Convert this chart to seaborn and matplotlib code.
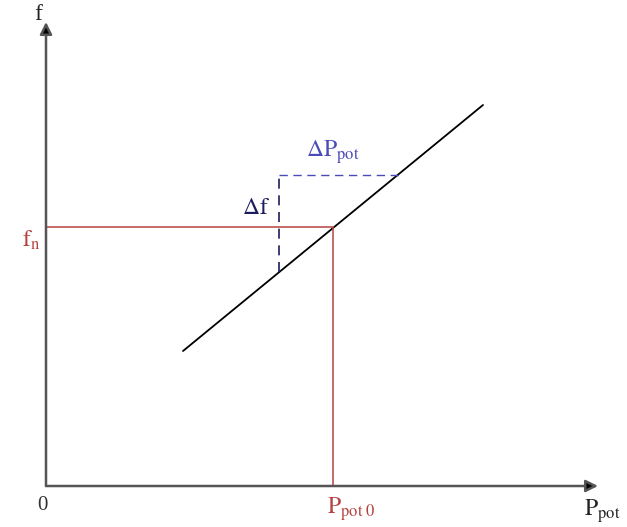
import matplotlib
matplotlib.use("Agg")
import pandas as pd
import matplotlib.pyplot as plt
import seaborn as sns

# ==========================================
# 1. DATA (axis units, origin at the axes corner)
# ==========================================
# droop characteristic f(P_pot)
line_p = [137, 437]
line_f = [135, 381]

# operating point
p0 = 287
fn = 259

# delta triangle
delta_p = [233, 354]
delta_f = [214, 311]

# axis extents
x_end = 552
y_end = 464

RED = "#b5423f"
NAVY = "#1c1c5e"
BLUE = "#4a4ab8"

# ==========================================
# 2. STYLE
# ==========================================
sns.set_theme(style="white")
plt.rcParams['font.family'] = ['Liberation Serif', 'DejaVu Serif']
plt.rcParams['mathtext.fontset'] = 'stix'

fig = plt.figure(figsize=(6.27, 5.27), dpi=100)
ax = fig.add_axes([0, 0, 1, 1])
ax.set_xlim(-46, 581)
ax.set_ylim(-41, 486)
ax.axis('off')

# ==========================================
# 3. DRAW
# ==========================================
# axes with arrows (gray shaft, black head)
arrow_kw = dict(arrowstyle='-|>', ec='#555555', fc='black', lw=1.8,
                mutation_scale=18, shrinkA=0, shrinkB=0)
ax.annotate('', xy=(x_end, 0), xytext=(0, 0), arrowprops=arrow_kw)
ax.annotate('', xy=(0, y_end), xytext=(0, 0), arrowprops=arrow_kw)

# characteristic line
df_line = pd.DataFrame({'p': line_p, 'f': line_f})
sns.lineplot(data=df_line, x='p', y='f', color='black', linewidth=1.3, ax=ax)

# operating point guides
ax.plot([0, p0], [fn, fn], color=RED, linewidth=1.1)
ax.plot([p0, p0], [0, fn], color=RED, linewidth=1.1)

# delta triangle
ax.plot([delta_p[0], delta_p[0]], delta_f, color=NAVY, linewidth=1.2,
        linestyle=(0, (6, 4)))
ax.plot(delta_p, [delta_f[1], delta_f[1]], color=BLUE, linewidth=1.0,
        linestyle=(0, (6, 4)))

# labels
ax.text(-8, 471, 'f', fontsize=17, ha='center', va='center', color='#222222')
ax.text(-15, 246, r'$\mathrm{f}_{\mathrm{n}}$', fontsize=17, ha='center',
        va='center', color=RED)
ax.text(-4, -19, '0', fontsize=15, ha='center', va='center', color='#333333')
ax.text(281, -23, r'$\mathrm{P}_{\mathrm{pot\ 0}}$', fontsize=17, ha='left',
        va='center', color=RED)
ax.text(538, -25, r'$\mathrm{P}_{\mathrm{pot}}$', fontsize=17, ha='left',
        va='center', color='#222222')
ax.text(196, 278, r'$\Delta\mathrm{f}$', fontsize=17, ha='left',
        va='center', color=NAVY)
ax.text(260, 334, r'$\Delta\mathrm{P}_{\mathrm{pot}}$', fontsize=17, ha='left',
        va='center', color=BLUE)

fig.savefig('out.png', dpi=100)
plt.close(fig)
